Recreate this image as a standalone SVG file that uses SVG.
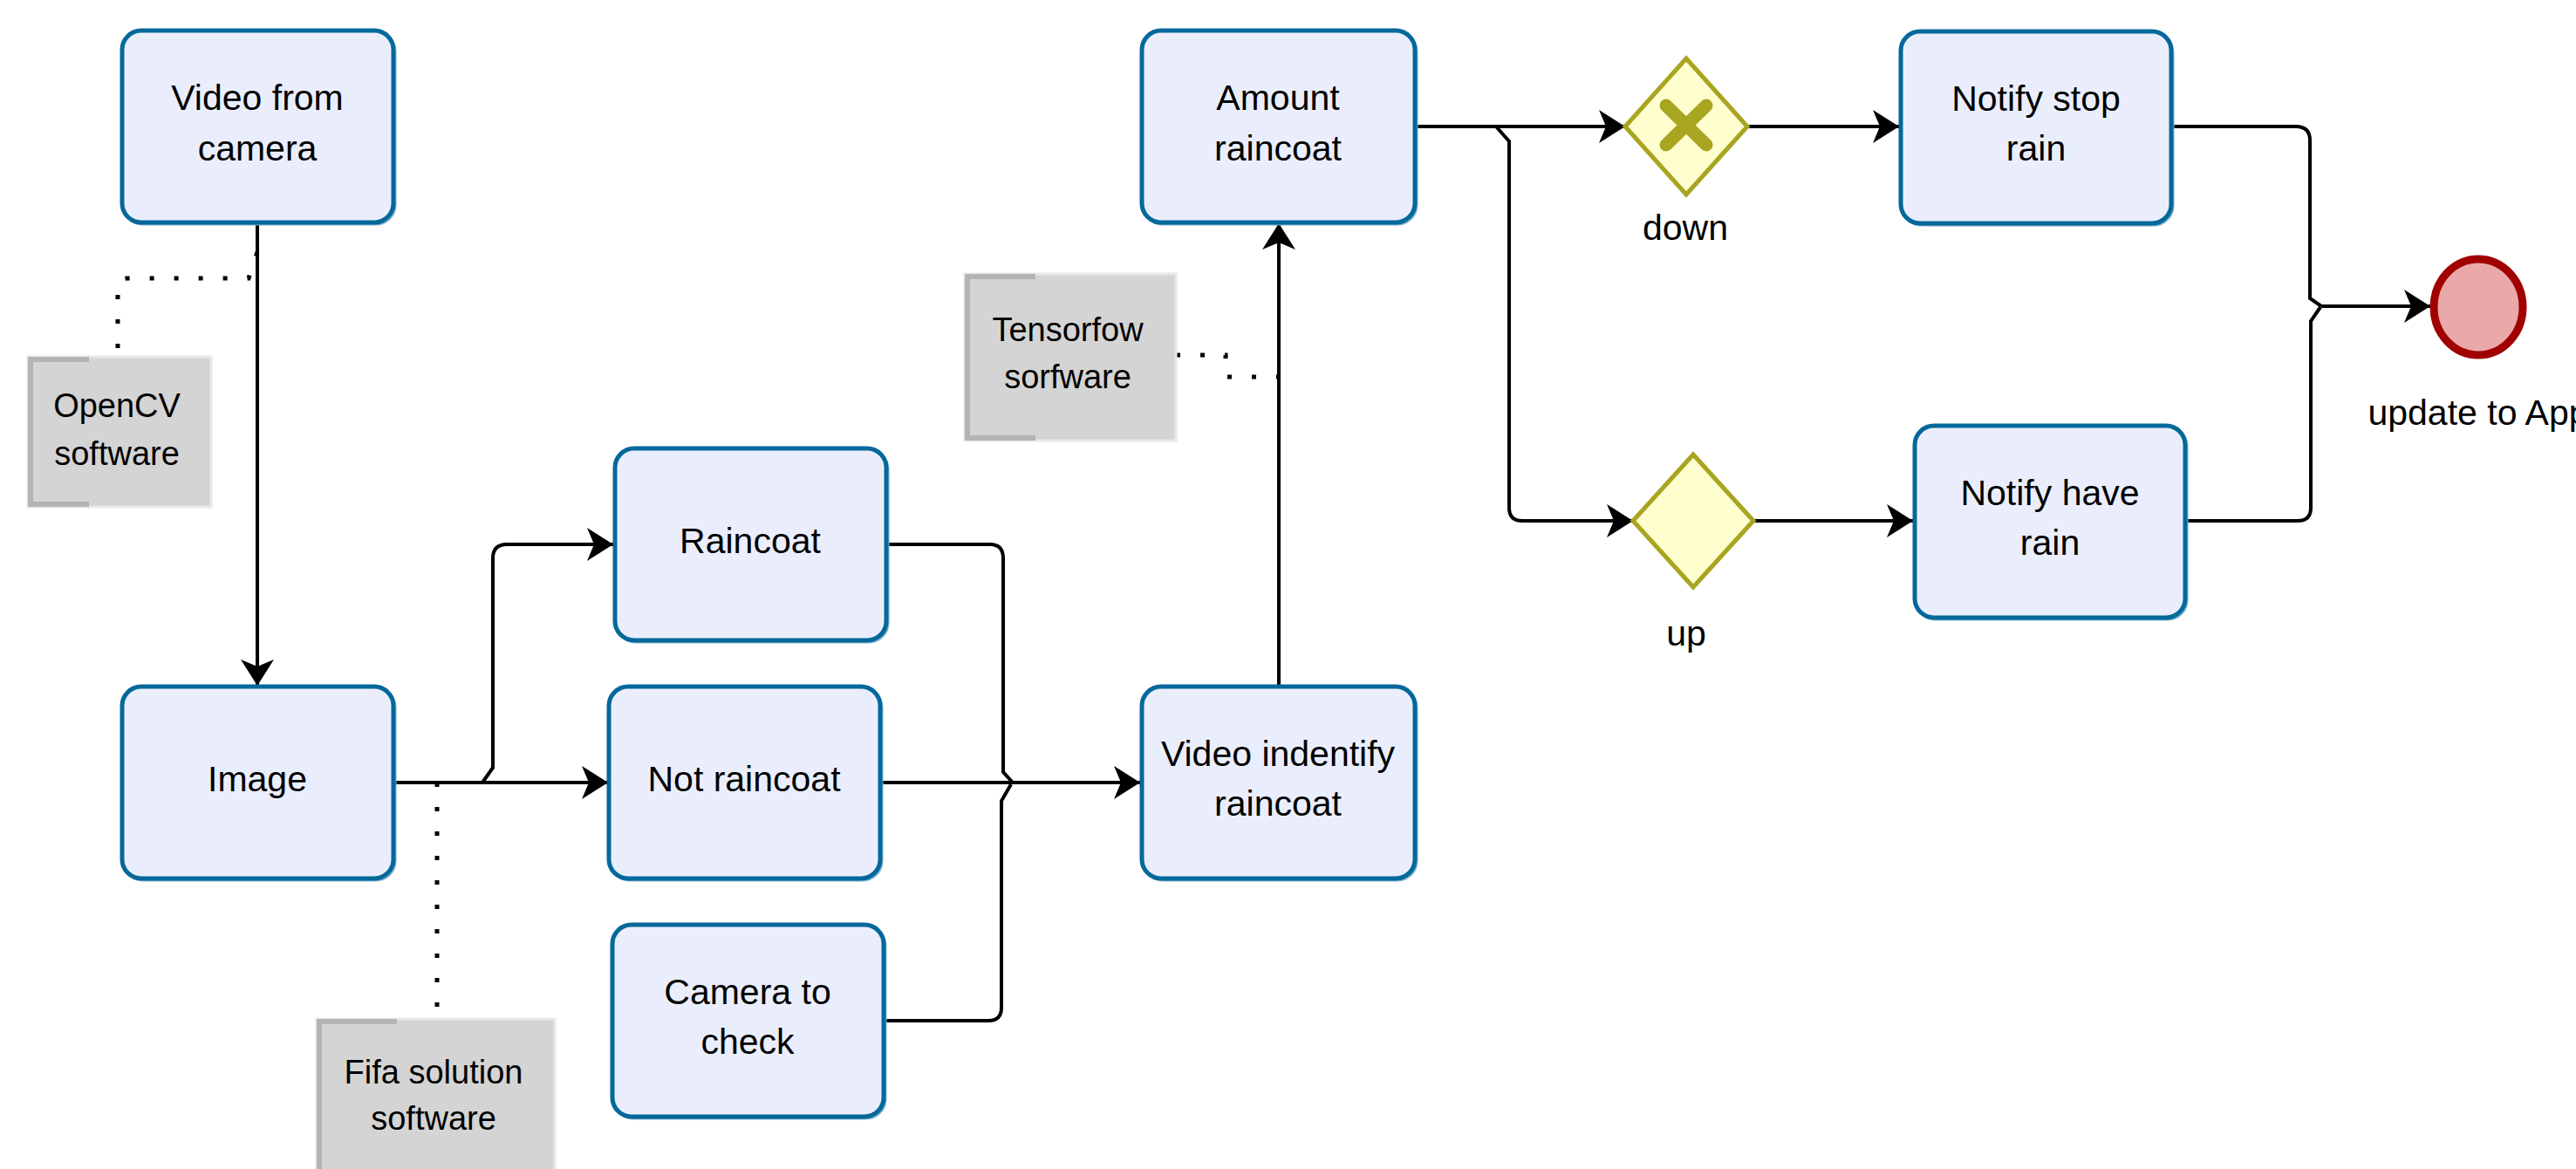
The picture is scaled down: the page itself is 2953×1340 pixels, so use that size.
<svg xmlns="http://www.w3.org/2000/svg" width="2953" height="1340" viewBox="0 0 2953 1340">
<style>
.task{fill:#eaeefc;stroke:#05689b;stroke-width:5}
.tshadow{fill:none;stroke:#80b3d1;stroke-width:3}
.t{font-family:"Liberation Sans",Arial,sans-serif;font-size:41px;fill:#000;text-anchor:middle}
.nt{font-family:"Liberation Sans",Arial,sans-serif;font-size:38px;fill:#000;text-anchor:middle}
.note{fill:#d4d4d4;stroke:#e8e8e8;stroke-width:3}
.brk{fill:none;stroke:#b4b4b4;stroke-width:6}
.flow{fill:none;stroke:#000;stroke-width:4}
.assoc{fill:none;stroke:#000;stroke-width:5;stroke-dasharray:5 23}
.gw{fill:#fefecf;stroke:#a8a520;stroke-width:5}
.gx{stroke:#a8a520;stroke-width:15;stroke-linecap:round}
.end{fill:#eaa8a8;stroke:#a00000;stroke-width:9}
</style>
<defs>
<marker id="arr" markerUnits="userSpaceOnUse" markerWidth="32" markerHeight="40" refX="30" refY="19" orient="auto">
<path d="M0,0 L30,19 L0,38 L8,19 Z" fill="#000"/>
</marker>
</defs>
<rect width="2953" height="1340" fill="#fff"/>

<g id="connectors">
<path class="flow" d="M295,256 V786" marker-end="url(#arr)"/>
<path class="flow" d="M451,897 H697" marker-end="url(#arr)"/>
<path class="flow" d="M553,897 L565,880 V640 Q565,624 581,624 H703" marker-end="url(#arr)"/>
<path class="flow" d="M1016,624 H1135 Q1150,624 1150,640 V885 L1161,897"/>
<path class="flow" d="M1009,897 H1307" marker-end="url(#arr)"/>
<path class="flow" d="M1013,1170 H1133 Q1148,1170 1148,1155 V918 L1159,899"/>
<path class="flow" d="M1466,786 V256" marker-end="url(#arr)"/>
<path class="flow" d="M1622,145 H1863" marker-end="url(#arr)"/>
<path class="flow" d="M1715,145 L1730,162 V582 Q1730,597 1745,597 H1872" marker-end="url(#arr)"/>
<path class="flow" d="M2003,145 H2177" marker-end="url(#arr)"/>
<path class="flow" d="M2010,597 H2193" marker-end="url(#arr)"/>
<path class="flow" d="M2489,145 H2632 Q2648,145 2648,161 V342 L2661,351"/>
<path class="flow" d="M2505,597 H2634 Q2649,597 2649,582 V368 L2660,352"/>
<path class="flow" d="M2661,351 H2786" marker-end="url(#arr)"/>
<path class="assoc" d="M295,289 L285,319 H147 Q135,319 135,331 V409"/>
<path class="assoc" d="M501,897 V1168"/>
<path class="assoc" d="M1348,407 H1405 V432 H1466"/>
</g>

<g id="video-from-camera">
<rect class="tshadow" x="142" y="37" width="311" height="220" rx="22"/>
<rect class="task" x="140" y="35" width="311" height="220" rx="22"/>
<text class="t" x="295" y="126">Video from</text>
<text class="t" x="295" y="184">camera</text>
</g>
<g id="image">
<rect class="tshadow" x="142" y="789" width="311" height="220" rx="22"/>
<rect class="task" x="140" y="787" width="311" height="220" rx="22"/>
<text class="t" x="295" y="907">Image</text>
</g>
<g id="raincoat">
<rect class="tshadow" x="707" y="516" width="311" height="220" rx="22"/>
<rect class="task" x="705" y="514" width="311" height="220" rx="22"/>
<text class="t" x="860" y="634">Raincoat</text>
</g>
<g id="not-raincoat">
<rect class="tshadow" x="700" y="789" width="311" height="220" rx="22"/>
<rect class="task" x="698" y="787" width="311" height="220" rx="22"/>
<text class="t" x="853" y="907">Not raincoat</text>
</g>
<g id="camera-to-check">
<rect class="tshadow" x="704" y="1062" width="311" height="220" rx="22"/>
<rect class="task" x="702" y="1060" width="311" height="220" rx="22"/>
<text class="t" x="857" y="1151">Camera to</text>
<text class="t" x="857" y="1208">check</text>
</g>
<g id="video-identify-raincoat">
<rect class="tshadow" x="1311" y="789" width="313" height="220" rx="22"/>
<rect class="task" x="1309" y="787" width="313" height="220" rx="22"/>
<text class="t" x="1465" y="878">Video indentify</text>
<text class="t" x="1465" y="935">raincoat</text>
</g>
<g id="amount-raincoat">
<rect class="tshadow" x="1311" y="37" width="313" height="220" rx="22"/>
<rect class="task" x="1309" y="35" width="313" height="220" rx="22"/>
<text class="t" x="1465" y="126">Amount</text>
<text class="t" x="1465" y="184">raincoat</text>
</g>
<g id="notify-stop-rain">
<rect class="tshadow" x="2181" y="38" width="310" height="220" rx="22"/>
<rect class="task" x="2179" y="36" width="310" height="220" rx="22"/>
<text class="t" x="2334" y="127">Notify stop</text>
<text class="t" x="2334" y="184">rain</text>
</g>
<g id="notify-have-rain">
<rect class="tshadow" x="2197" y="490" width="310" height="220" rx="22"/>
<rect class="task" x="2195" y="488" width="310" height="220" rx="22"/>
<text class="t" x="2350" y="579">Notify have</text>
<text class="t" x="2350" y="636">rain</text>
</g>

<g id="gateway-down">
<polygon class="gw" points="1933,67 2003,145 1933,223 1863,145"/>
<line class="gx" x1="1910" y1="121" x2="1956" y2="166"/>
<line class="gx" x1="1956" y1="121" x2="1910" y2="166"/>
<text class="t" x="1932" y="275">down</text>
</g>
<g id="gateway-up">
<polygon class="gw" points="1941,521 2010,597 1941,673 1872,597"/>
<text class="t" x="1933" y="740">up</text>
</g>
<g id="end-event">
<ellipse class="end" cx="2841" cy="352" rx="51" ry="55"/>
<text class="t" x="2841" y="487">update to App</text>
</g>

<g id="note-opencv">
<rect class="note" x="32" y="409" width="210" height="172"/>
<path class="brk" d="M102,412 H35 V578 H102"/>
<text class="nt" x="134" y="478">OpenCV</text>
<text class="nt" x="134" y="533">software</text>
</g>
<g id="note-tensorflow">
<rect class="note" x="1106" y="314" width="242" height="191"/>
<path class="brk" d="M1187,317 H1109 V502 H1187"/>
<text class="nt" x="1224" y="391">Tensorfow</text>
<text class="nt" x="1224" y="445">sorfware</text>
</g>
<g id="note-fifa">
<rect class="note" x="363" y="1168" width="273" height="190"/>
<path class="brk" d="M455,1171 H366 V1355"/>
<text class="nt" x="497" y="1242">Fifa solution</text>
<text class="nt" x="497" y="1295">software</text>
</g>
</svg>
